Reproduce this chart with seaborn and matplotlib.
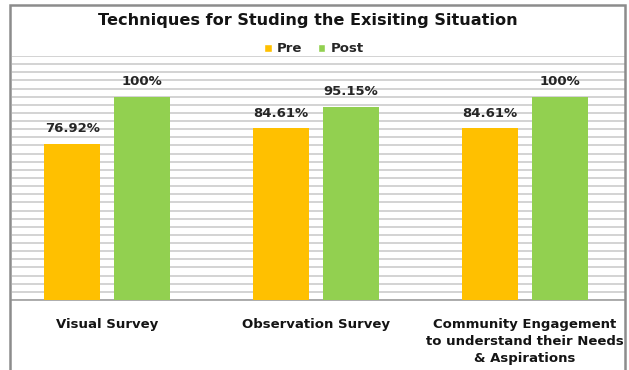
import matplotlib
matplotlib.use("Agg")
import matplotlib.pyplot as plt
import seaborn as sns
import pandas as pd
from matplotlib.patches import Rectangle, Patch

categories = ["Visual Survey", "Observation Survey",
              "Community Engagement\nto understand their Needs\n& Aspirations"]
series_names = ["Pre", "Post"]
pre_values = [76.92, 84.61, 84.61]
post_values = [100, 95.15, 100]
pre_labels = ["76.92%", "84.61%", "84.61%"]
post_labels = ["100%", "95.15%", "100%"]
title = "Techniques for Studing the Exisiting Situation"

colors = {"Pre": "#FFC000", "Post": "#92D050"}

df = pd.DataFrame({
    "category": categories * 2,
    "series": [series_names[0]] * 3 + [series_names[1]] * 3,
    "value": pre_values + post_values,
})

sns.set_theme(style="white")
plt.rcParams['font.family'] = ['DejaVu Sans']

W, H = 629, 370
fig = plt.figure(figsize=(W / 100, H / 100), dpi=100)
ax = fig.add_axes([12 / W, (H - 300) / H, (625 - 12) / W, (300 - 56) / H])

sns.barplot(data=df, x="category", y="value", hue="series", palette=colors,
            width=0.67, gap=0.2, ax=ax, saturation=1, legend=False,
            linewidth=0, zorder=3)

ax.set_ylim(0, 120)
ax.set_xlim(-0.455, 2.478)
ax.set_yticks(range(0, 121, 4))
ax.yaxis.grid(True, color="#d0d0d0", linewidth=1.3, zorder=0)
ax.set_axisbelow(True)
ax.tick_params(axis="y", left=False, labelleft=False)
ax.tick_params(axis="x", bottom=False, pad=7)
ax.set_xlabel("")
ax.set_ylabel("")
for s in ["top", "right", "left"]:
    ax.spines[s].set_visible(False)
ax.spines["bottom"].set_color("#a6a6a6")
ax.spines["bottom"].set_linewidth(1.3)
for lbl in ax.get_xticklabels():
    lbl.set_fontsize(9.5)
    lbl.set_fontweight("bold")
    lbl.set_color("#141414")
    lbl.set_linespacing(1.4)

all_labels = [pre_labels, post_labels]
for cont, labs in zip(ax.containers, all_labels):
    ax.bar_label(cont, labels=labs, padding=6, fontsize=9.5,
                 fontweight="bold", color="#262626")

handles = [Patch(facecolor=colors[n], label=n) for n in series_names]
fig.legend(handles=handles, loc="center", bbox_to_anchor=(314 / W, 1 - 49 / H),
           ncol=2, frameon=False, handlelength=0.55,
           handleheight=0.55, handletextpad=0.4, columnspacing=1.2,
           prop={"weight": "bold", "size": 9.5})

fig.text(308 / W, 1 - 20 / H, title, ha="center", va="center",
         fontsize=11.6, fontweight="bold", color="#141414")

fig.patches.append(Rectangle((10 / W, -0.1), (625 - 10) / W, 1.1 - 5 / H,
                             transform=fig.transFigure, fill=False,
                             edgecolor="#8c8c8c", linewidth=1.8, clip_on=False))

fig.savefig("out.png", dpi=100)
